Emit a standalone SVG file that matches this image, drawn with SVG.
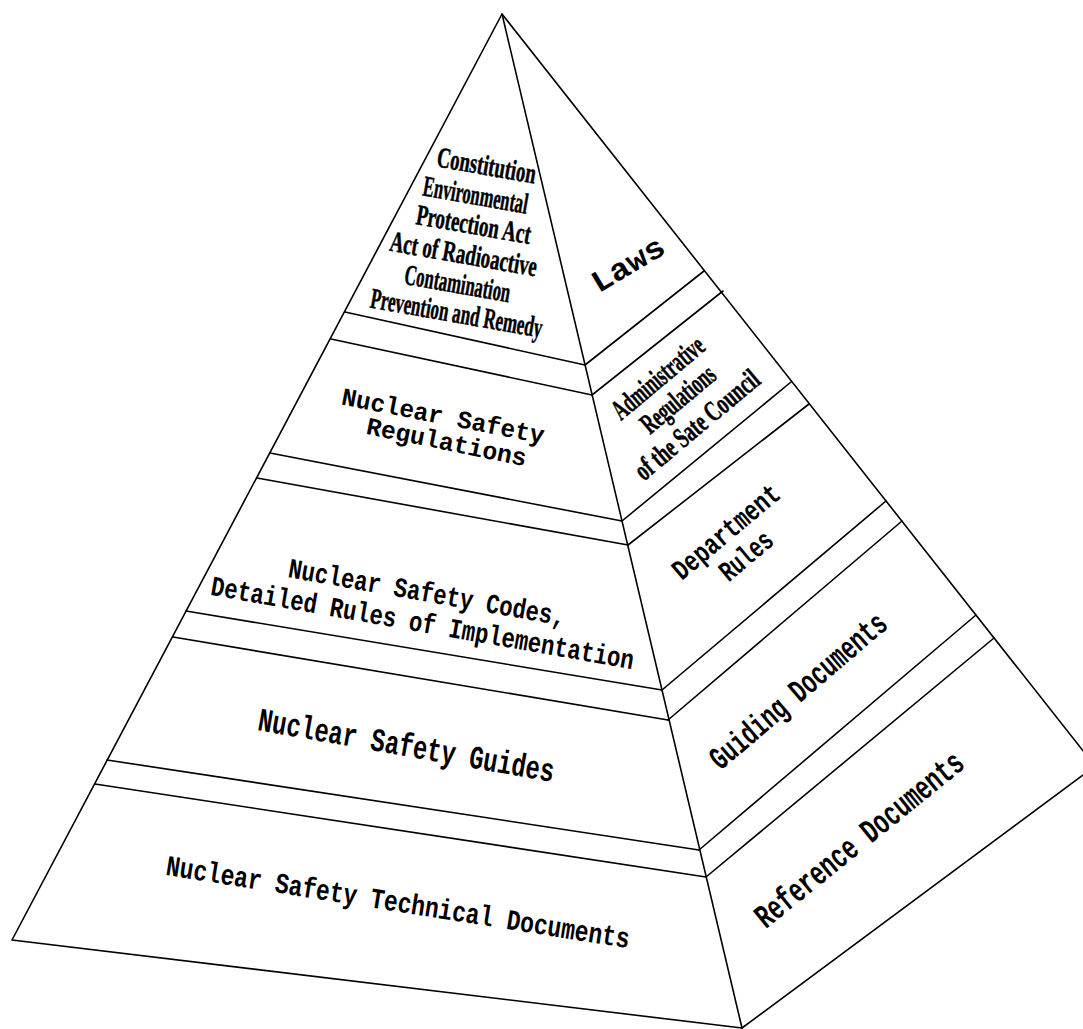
<svg xmlns="http://www.w3.org/2000/svg" width="1083" height="1029" viewBox="0 0 1083 1029">
<style>
.ln{stroke:#000;stroke-width:1.6;fill:none;stroke-linecap:round;stroke-linejoin:round}
.cn{font-family:"Liberation Serif","Times New Roman",serif;font-weight:bold;font-size:29px;fill:#000;stroke:#000;stroke-width:0.5;text-anchor:middle}
.cr{font-family:"Liberation Mono","Courier New",monospace;font-weight:bold;fill:#000;text-anchor:middle}
</style>
<rect width="1083" height="1029" fill="#fff"/>
<g id="outline">
<polygon class="ln" points="502,14 12,940 742,1028 1095,766"/>
<line class="ln" x1="502" y1="14" x2="742" y2="1028"/>
</g>
<g id="connectors">
<line class="ln" x1="345" y1="312" x2="585" y2="365"/>
<line class="ln" x1="331" y1="339" x2="592" y2="395"/>
<line class="ln" x1="270" y1="453" x2="622" y2="521"/>
<line class="ln" x1="257" y1="478" x2="628" y2="545"/>
<line class="ln" x1="186" y1="611" x2="662" y2="690"/>
<line class="ln" x1="173" y1="637" x2="668" y2="720"/>
<line class="ln" x1="107" y1="760" x2="699" y2="850"/>
<line class="ln" x1="95" y1="784" x2="706" y2="877"/>
<line class="ln" x1="585" y1="365" x2="704" y2="271"/>
<line class="ln" x1="592" y1="395" x2="723" y2="291"/>
<line class="ln" x1="622" y1="521" x2="791" y2="382"/>
<line class="ln" x1="628" y1="545" x2="809" y2="404"/>
<line class="ln" x1="662" y1="690" x2="886" y2="501"/>
<line class="ln" x1="668" y1="720" x2="902" y2="521"/>
<line class="ln" x1="699" y1="850" x2="976" y2="615"/>
<line class="ln" x1="706" y1="877" x2="994" y2="638"/>
</g>
<g id="laws-content">
<text class="cn" transform="translate(485,175) rotate(10)" textLength="100" lengthAdjust="spacingAndGlyphs">Constitution</text>
<text class="cn" transform="translate(474,204.5) rotate(10)" textLength="106" lengthAdjust="spacingAndGlyphs">Environmental</text>
<text class="cn" transform="translate(472,234) rotate(10)" textLength="116" lengthAdjust="spacingAndGlyphs">Protection Act</text>
<text class="cn" transform="translate(462,263.5) rotate(10)" textLength="149" lengthAdjust="spacingAndGlyphs">Act of Radioactive</text>
<text class="cn" transform="translate(456,293) rotate(10)" textLength="107" lengthAdjust="spacingAndGlyphs">Contamination</text>
<text class="cn" transform="translate(455,322.5) rotate(10)" textLength="174" lengthAdjust="spacingAndGlyphs">Prevention and Remedy</text>
</g>
<g id="laws">
<text class="cr" font-size="31" transform="translate(633,273) rotate(-31)" textLength="80" lengthAdjust="spacingAndGlyphs">Laws</text>
</g>
<g id="admin-regulations">
<text class="cn" transform="translate(664,385) rotate(-40)" textLength="112" lengthAdjust="spacingAndGlyphs">Administrative</text>
<text class="cn" transform="translate(684,406.5) rotate(-40)" textLength="89" lengthAdjust="spacingAndGlyphs">Regulations</text>
<text class="cn" transform="translate(703,432) rotate(-40)" textLength="154" lengthAdjust="spacingAndGlyphs">of the Sate Council</text>
</g>
<g id="nuclear-safety-regulations">
<text class="cr" font-size="25" transform="translate(441.5,424) rotate(11)" textLength="206" lengthAdjust="spacingAndGlyphs">Nuclear Safety</text>
<text class="cr" font-size="25" transform="translate(445,450) rotate(11.5)" textLength="163" lengthAdjust="spacingAndGlyphs">Regulations</text>
</g>
<g id="department-rules">
<text class="cr" font-size="29" transform="translate(732,539) rotate(-40)" textLength="131" lengthAdjust="spacingAndGlyphs">Department</text>
<text class="cr" font-size="29" transform="translate(752,563) rotate(-40)" textLength="61" lengthAdjust="spacingAndGlyphs">Rules</text>
</g>
<g id="codes">
<text class="cr" font-size="28" transform="translate(425.5,601.5) rotate(10)" textLength="281" lengthAdjust="spacingAndGlyphs">Nuclear Safety Codes,</text>
<text class="cr" font-size="28" transform="translate(421,632) rotate(10)" textLength="429" lengthAdjust="spacingAndGlyphs">Detailed Rules of Implementation</text>
</g>
<g id="guiding-documents">
<text class="cr" font-size="33" transform="translate(805,699) rotate(-40.5)" textLength="222" lengthAdjust="spacingAndGlyphs">Guiding Documents</text>
</g>
<g id="guides">
<text class="cr" font-size="33" transform="translate(404.5,756) rotate(10)" textLength="300" lengthAdjust="spacingAndGlyphs">Nuclear Safety Guides</text>
</g>
<g id="reference-documents">
<text class="cr" font-size="34" transform="translate(866,848) rotate(-39)" textLength="258" lengthAdjust="spacingAndGlyphs">Reference Documents</text>
</g>
<g id="technical-documents">
<text class="cr" font-size="29" transform="translate(396.5,911.5) rotate(9)" textLength="469" lengthAdjust="spacingAndGlyphs">Nuclear Safety Technical Documents</text>
</g>
</svg>
